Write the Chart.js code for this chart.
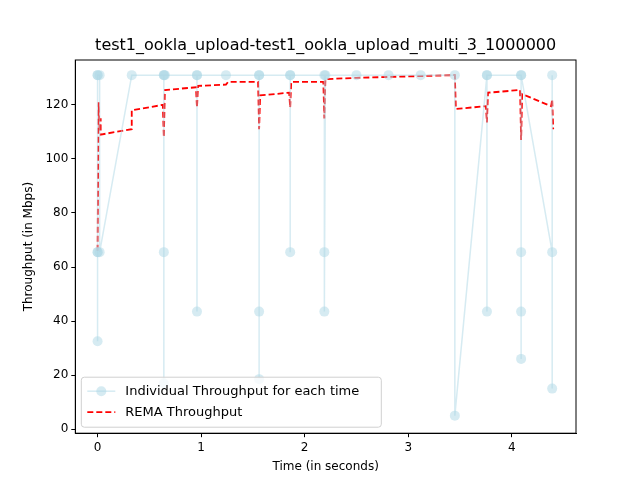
<!DOCTYPE html>
<html>
<head>
<script src="https://cdn.jsdelivr.net/npm/chart.js@4"></script>
<style>body{margin:0;background:#fff}#c{display:block}</style>
</head>
<body>
<canvas id="c" width="640" height="480"></canvas>
<script>
const title = 'test1_ookla_upload-test1_ookla_upload_multi_3_1000000';
const xTicks = [0, 1, 2, 3, 4];
const yTicks = [0, 20, 40, 60, 80, 100, 120];

// individual throughput samples: time (s), value (Mbps)
const indivTime = [0, 0, 0, 0, 0, 0.02, 0.02, 0.33, 0.64, 0.64, 0.64, 0.64, 0.65, 0.96, 0.96, 0.96,
  1.24, 1.56, 1.56, 1.56, 1.56, 1.86, 1.86, 1.86, 2.19, 2.19, 2.19, 2.2, 2.5, 2.81, 3.12, 3.45, 3.45,
  3.76, 3.76, 3.76, 4.09, 4.09, 4.09, 4.09, 4.09, 4.39, 4.39, 4.39];
const indivValue = [131, 65.5, 32.5, 65.5, 131, 131, 65.5, 131, 131, 65.5, 17, 131, 131, 131, 43.5, 131,
  131, 131, 43.5, 18.5, 131, 131, 65.5, 131, 131, 65.5, 43.5, 131, 131, 131, 131, 131, 5,
  131, 43.5, 131, 131, 65.5, 43.5, 26, 131, 65.5, 15, 131];

// REMA throughput
const remaTime = [0, 0.01, 0.02, 0.03, 0.03, 0.33, 0.33, 0.63, 0.64, 0.65, 0.95, 0.96, 0.97, 1.24, 1.26,
  1.55, 1.56, 1.57, 1.85, 1.86, 1.87, 2.18, 2.19, 2.2, 2.5, 3.45, 3.46, 3.75, 3.76, 3.77, 4.08, 4.09, 4.1,
  4.38, 4.39, 4.4];
const remaValue = [66, 121, 110, 115, 109, 111, 118, 120, 108, 125.5, 126.5, 119, 127, 127.5, 128.5,
  128.5, 111, 123.5, 124.5, 119, 128.5, 128.5, 115, 129.5, 130, 131, 118.5, 119.5, 113.5, 124.5, 125.5, 107, 124,
  119.5, 122, 111];

const blue = 'rgba(173,216,230,0.5)';
const font = { family: 'DejaVu Sans', size: 12 };

const legendBox = {
  id: 'legendBox',
  afterDraw(chart) {
    const c = chart.ctx, a = chart.chartArea;
    c.save();
    // axes frame
    c.strokeStyle = '#000'; c.lineWidth = 1;
    c.strokeRect(a.left, a.top, a.right - a.left, a.bottom - a.top);
    // title centred over plot
    c.fillStyle = '#000'; c.font = '16px "DejaVu Sans"'; c.textAlign = 'center'; c.textBaseline = 'alphabetic';
    c.fillText(title, (a.left + a.right) / 2, a.top - 10);
    c.textAlign = 'left';
    const x = a.left + 6, y = a.bottom - 56, w = 300, h = 50;
    c.fillStyle = 'rgba(255,255,255,0.8)';
    c.strokeStyle = '#d0d0d0';
    c.beginPath();
    c.roundRect(x, y, w, h, 3);
    c.fill(); c.stroke();
    c.strokeStyle = blue; c.lineWidth = 1.5;
    c.beginPath(); c.moveTo(x + 6, y + 14); c.lineTo(x + 34, y + 14); c.stroke();
    c.fillStyle = blue;
    c.beginPath(); c.arc(x + 20, y + 14, 5, 0, Math.PI * 2); c.fill();
    c.strokeStyle = 'red'; c.lineWidth = 1.8; c.setLineDash([6, 3]);
    c.beginPath(); c.moveTo(x + 6, y + 35); c.lineTo(x + 34, y + 35); c.stroke();
    c.setLineDash([]);
    c.fillStyle = '#000'; c.font = '13px "DejaVu Sans"'; c.textBaseline = 'middle';
    c.fillText('Individual Throughput for each time', x + 44, y + 14);
    c.fillText('REMA Throughput', x + 44, y + 35);
    c.restore();
  }
};

const tickGrid = { display: true, drawOnChartArea: false, drawTicks: true, tickLength: 4, color: '#000' };

new Chart(document.getElementById('c'), {
  type: 'scatter',
  data: {
    datasets: [
      {
        data: indivTime.map((t, i) => ({ x: t, y: indivValue[i] })),
        showLine: true, borderColor: blue, backgroundColor: blue,
        borderWidth: 1.5, pointRadius: 5, pointBorderWidth: 0
      },
      {
        data: remaTime.map((t, i) => ({ x: t, y: remaValue[i] })),
        showLine: true, borderColor: 'red', borderDash: [6, 3],
        borderWidth: 1.8, pointRadius: 0
      }
    ]
  },
  plugins: [legendBox],
  options: {
    responsive: false, animation: false,
    layout: { padding: { left: 18, right: 64, top: 60, bottom: 2 } },
    plugins: {
      legend: { display: false }, tooltip: { enabled: false }, title: { display: false }
    },
    scales: {
      x: {
        type: 'linear', min: -0.215, max: 4.62,
        afterBuildTicks: s => { s.ticks = xTicks.map(v => ({ value: v })); },
        grid: tickGrid,
        border: { color: '#000' },
        ticks: { color: '#000', font, padding: 3 },
        title: { display: true, text: 'Time (in seconds)', color: '#000', font, padding: { top: 2 } }
      },
      y: {
        min: -1.5, max: 136.6,
        afterBuildTicks: s => { s.ticks = yTicks.map(v => ({ value: v })); },
        grid: tickGrid,
        border: { color: '#000' },
        ticks: { color: '#000', font, padding: 3 },
        title: { display: true, text: 'Throughput (in Mbps)', color: '#000', font, padding: { bottom: 6 } }
      }
    }
  }
});
</script>
</body>
</html>
